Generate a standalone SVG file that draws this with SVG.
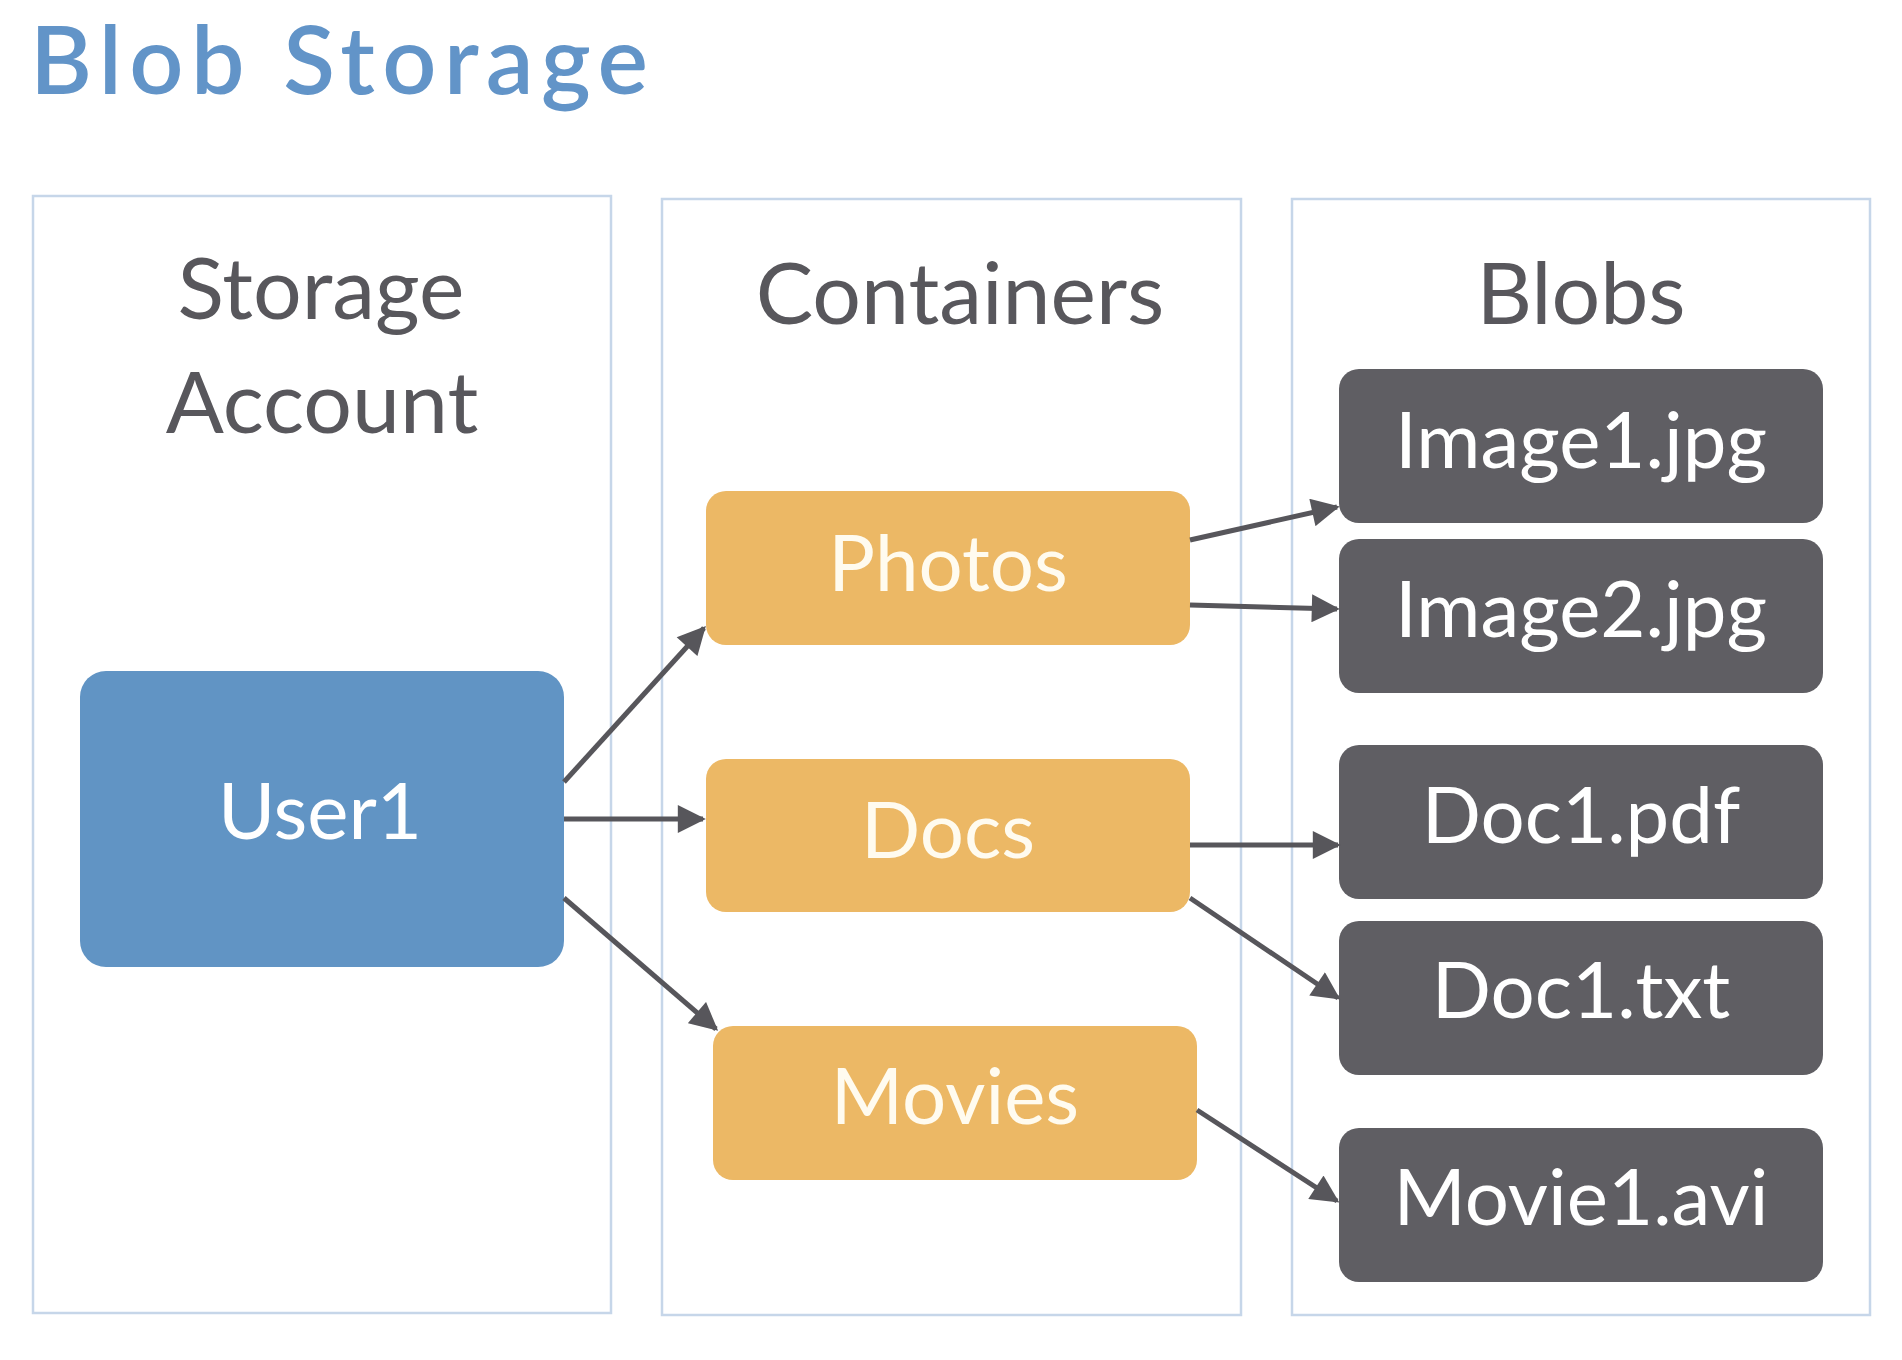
<svg xmlns="http://www.w3.org/2000/svg" width="1902" height="1360" viewBox="0 0 1902 1360">
<defs>
<marker id="arr" viewBox="0 0 10 10" refX="9" refY="5" markerWidth="5.8" markerHeight="5.6" orient="auto" markerUnits="strokeWidth">
<path d="M0,0 L10,5 L0,10 z" fill="#57565b"/>
</marker>
<style>
text{font-family:Lato,"Open Sans","Liberation Sans",sans-serif;}
.title{fill:#6294c8;font-size:95px;font-weight:600;letter-spacing:7.5px;}
.panel{fill:#ffffff;stroke:#c6d6e9;stroke-width:2.5;}
.ptitle{fill:#58575c;font-size:86px;text-anchor:middle;}
.user{fill:#6194c4;}
.cont{fill:#ecb865;}
.blob{fill:#5f5e63;}
.lbl{fill:#ffffff;font-size:78px;text-anchor:middle;}
.clbl{fill:#fffbef;font-size:78px;text-anchor:middle;}
.conn{stroke:#57565b;stroke-width:5;fill:none;marker-end:url(#arr);}
</style>
</defs>
<rect width="1902" height="1360" fill="#ffffff"/>
<text class="title" x="30" y="94">Blob Storage</text>
<g id="panel-storage-account">
<rect class="panel" x="33" y="196" width="578" height="1117"/>
<text class="ptitle" x="321" y="319">Storage</text>
<text class="ptitle" x="322" y="433">Account</text>
</g>
<g id="panel-containers">
<rect class="panel" x="662" y="199" width="579" height="1116"/>
<text class="ptitle" x="960" y="324">Containers</text>
</g>
<g id="panel-blobs">
<rect class="panel" x="1292" y="199" width="578" height="1116"/>
<text class="ptitle" x="1581" y="324">Blobs</text>
</g>
<g id="user1">
<rect class="user" x="80" y="671" width="484" height="296" rx="26"/>
<text class="lbl" x="320" y="839">User1</text>
</g>
<g id="photos">
<rect class="cont" x="706" y="491" width="484" height="154" rx="20"/>
<text class="clbl" x="948" y="591">Photos</text>
</g>
<g id="docs">
<rect class="cont" x="706" y="759" width="484" height="153" rx="20"/>
<text class="clbl" x="948" y="858">Docs</text>
</g>
<g id="movies">
<rect class="cont" x="713" y="1026" width="484" height="154" rx="20"/>
<text class="clbl" x="955" y="1124">Movies</text>
</g>
<g id="image1">
<rect class="blob" x="1339" y="369" width="484" height="154" rx="20"/>
<text class="lbl" x="1581" y="468">Image1.jpg</text>
</g>
<g id="image2">
<rect class="blob" x="1339" y="539" width="484" height="154" rx="20"/>
<text class="lbl" x="1581" y="637">Image2.jpg</text>
</g>
<g id="doc1pdf">
<rect class="blob" x="1339" y="745" width="484" height="154" rx="20"/>
<text class="lbl" x="1581" y="843">Doc1.pdf</text>
</g>
<g id="doc1txt">
<rect class="blob" x="1339" y="921" width="484" height="154" rx="20"/>
<text class="lbl" x="1581" y="1018">Doc1.txt</text>
</g>
<g id="movie1avi">
<rect class="blob" x="1339" y="1128" width="484" height="154" rx="20"/>
<text class="lbl" x="1581" y="1225">Movie1.avi</text>
</g>
<g id="connectors">
<line class="conn" x1="564" y1="782" x2="704" y2="628"/>
<line class="conn" x1="564" y1="819" x2="703" y2="819"/>
<line class="conn" x1="564" y1="898" x2="716" y2="1029"/>
<line class="conn" x1="1190" y1="540" x2="1337" y2="507"/>
<line class="conn" x1="1190" y1="605" x2="1337" y2="609"/>
<line class="conn" x1="1190" y1="845" x2="1338" y2="845"/>
<line class="conn" x1="1190" y1="898" x2="1338" y2="998"/>
<line class="conn" x1="1197" y1="1110" x2="1337" y2="1201"/>
</g>
</svg>
